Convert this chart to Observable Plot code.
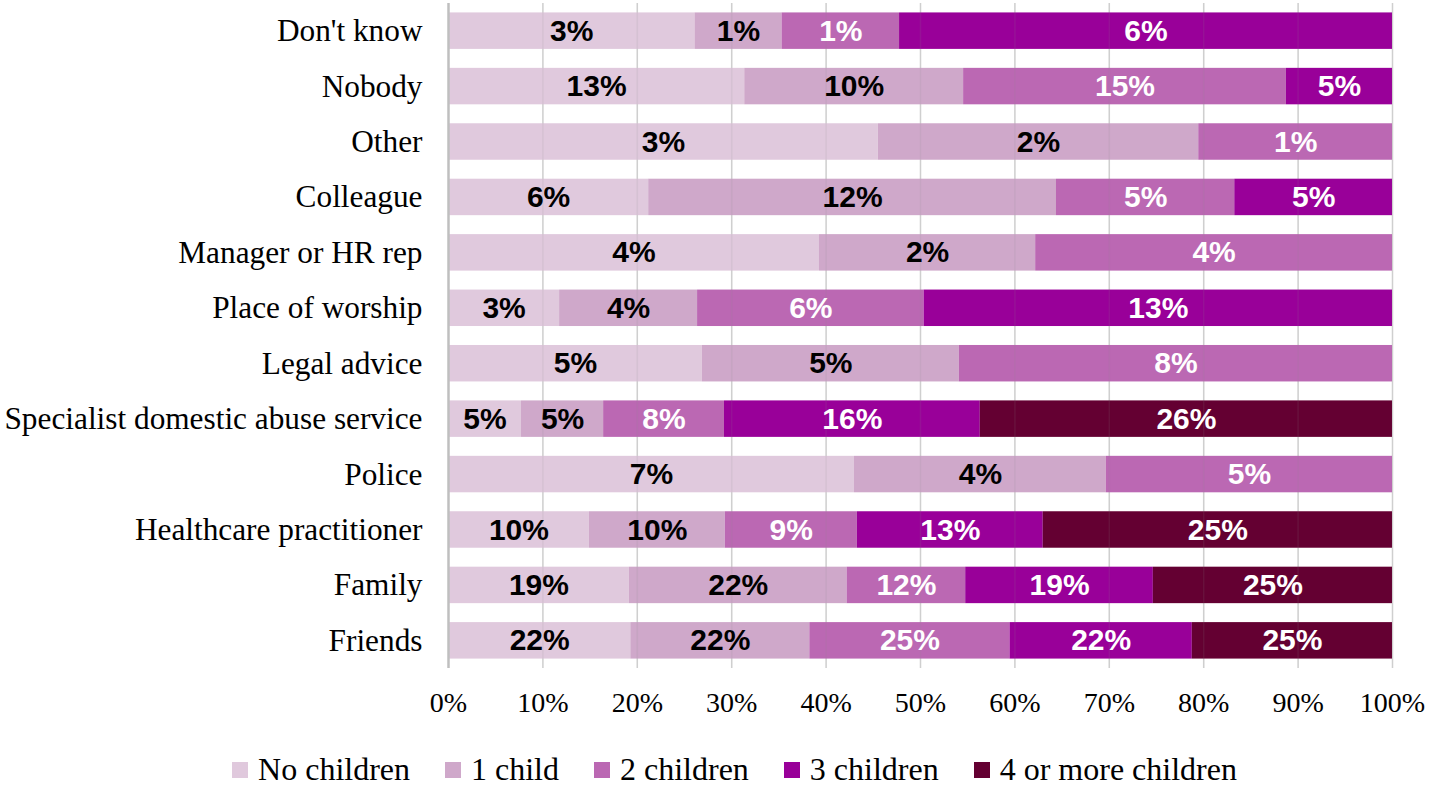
<!DOCTYPE html>
<html>
<head>
<meta charset="utf-8">
<script src="https://cdn.jsdelivr.net/npm/d3@7"></script>
<script src="https://cdn.jsdelivr.net/npm/@observablehq/plot@0.6"></script>
<style>
  body { margin: 0; background: #fff; }
  #legend { display: flex; justify-content: center; gap: 35px; font-family: "Liberation Serif", "Times New Roman", serif; font-size: 32px; color: #000; margin-top: 22px; padding-left: 40px; }
  #legend .item { display: flex; align-items: center; }
  #legend .sw { width: 16px; height: 16px; margin-right: 10px; }
</style>
</head>
<body>
<div id="chart"></div>
<div id="legend"></div>
<script>
const categories = ["Don't know","Nobody","Other","Colleague","Manager or HR rep","Place of worship","Legal advice","Specialist domestic abuse service","Police","Healthcare practitioner","Family","Friends"];
const series = ["No children","1 child","2 children","3 children","4 or more children"];
const colors = ["#e0c9dd","#cfa8ca","#bb68b3","#990099","#640032"];
const noChildren    = [3.0, 13.4, 2.95, 5.94, 3.93, 3.06, 4.84, 4.64, 6.88, 10.0, 18.6, 22.4];
const oneChild      = [1.06, 9.9, 2.2, 12.1, 2.29, 3.8, 4.9, 5.22, 4.27, 9.65, 22.4, 22.0];
const twoChildren   = [1.43, 14.6, 1.33, 5.29, 3.78, 6.24, 8.26, 7.68, 4.85, 9.38, 12.2, 24.6];
const threeChildren = [6.0, 4.8, 0, 4.68, 0, 12.9, 0, 16.26, 0, 13.2, 19.3, 22.4];
const fourPlus      = [0, 0, 0, 0, 0, 0, 0, 26.2, 0, 24.8, 24.6, 24.6];
const xTicks = [0, 0.1, 0.2, 0.3, 0.4, 0.5, 0.6, 0.7, 0.8, 0.9, 1];
const darkLabelSeries = ["No children", "1 child"];

const seriesValues = [noChildren, oneChild, twoChildren, threeChildren, fourPlus];
const data = [];
categories.forEach((c, i) => {
  series.forEach((s, j) => {
    const v = seriesValues[j][i];
    if (v > 0) data.push({category: c, series: s, value: v});
  });
});

const stackOpts = {x: "value", y: "category", z: "series", offset: "normalize"};
const labelFont = {fontWeight: "bold", fontSize: 30, fontFamily: "'Liberation Sans', Arial, sans-serif"};
const pct = d => Math.round(d.value) + "%";

const chart = Plot.plot({
  width: 1429,
  height: 729,
  marginLeft: 448,
  marginRight: 37,
  marginTop: 3,
  marginBottom: 61,
  style: {fontFamily: "'Liberation Serif', 'Times New Roman', serif", fontSize: "28px", color: "#000", background: "#fff"},
  x: {domain: [0, 1], ticks: xTicks, tickFormat: d3.format(".0%"), tickSize: 0, tickPadding: 24, label: null},
  y: {domain: categories, paddingInner: 0.342, paddingOuter: 0.17, round: false, label: null},
  color: {domain: series, range: colors},
  marks: [
    Plot.ruleX(xTicks.slice(1), {stroke: "#d9d9d9", strokeWidth: 1.5}),
    Plot.barX(data, Plot.stackX({...stackOpts, fill: "series"})),
    Plot.ruleX(xTicks.slice(1), {stroke: "#888", strokeOpacity: 0.12, strokeWidth: 1.5}),
    Plot.ruleX([0], {stroke: "#bfbfbf", strokeWidth: 2.5}),
    Plot.axisY({tickSize: 0, tickPadding: 26, fontSize: 31.3}),
    Plot.text(data, Plot.stackX({...stackOpts, text: d => darkLabelSeries.includes(d.series) ? pct(d) : "", fill: "#000", ...labelFont})),
    Plot.text(data, Plot.stackX({...stackOpts, text: d => darkLabelSeries.includes(d.series) ? "" : pct(d), fill: "#fff", ...labelFont}))
  ]
});
document.getElementById("chart").appendChild(chart);

const legend = document.getElementById("legend");
series.forEach((s, j) => {
  const item = document.createElement("div");
  item.className = "item";
  const sw = document.createElement("span");
  sw.className = "sw";
  sw.style.background = colors[j];
  const t = document.createElement("span");
  t.textContent = s;
  item.appendChild(sw);
  item.appendChild(t);
  legend.appendChild(item);
});
</script>
</body>
</html>
